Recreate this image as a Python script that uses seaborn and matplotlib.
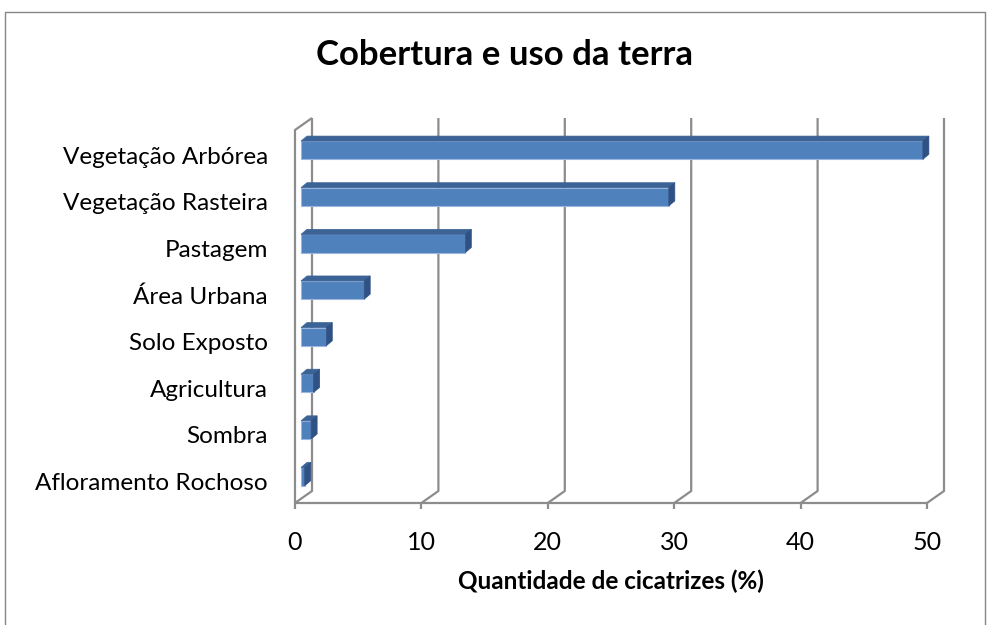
import matplotlib
matplotlib.use("Agg")
import matplotlib.pyplot as plt
from matplotlib.lines import Line2D
from matplotlib.patches import Polygon
from matplotlib.transforms import IdentityTransform, ScaledTranslation
import seaborn as sns
import pandas as pd

# Data
categories = ["Vegetação Arbórea", "Vegetação Rasteira", "Pastagem", "Área Urbana",
              "Solo Exposto", "Agricultura", "Sombra", "Afloramento Rochoso"]
values = [49.2, 29.1, 13.0, 5.0, 2.0, 1.0, 0.8, 0.3]
x_ticks = [0, 10, 20, 30, 40, 50]

title = "Cobertura e uso da terra"
x_title = "Quantidade de cicatrizes (%)"

sns.set_theme(style="white")
plt.rcParams["font.family"] = ["Lato", "DejaVu Sans"]
plt.rcParams["text.color"] = "black"
plt.rcParams["axes.labelcolor"] = "black"

W, H, DPI = 989, 625, 100
fig = plt.figure(figsize=(W / DPI, H / DPI), dpi=DPI)

# front plane of the plot area (pixels, top-left origin)
px_left, px_right, px_top, px_bottom = 295, 927, 130, 503
ax = fig.add_axes([px_left / W, 1 - px_bottom / H,
                   (px_right - px_left) / W, (px_bottom - px_top) / H])

df = pd.DataFrame({"categoria": categories, "valor": values})
sns.barplot(data=df, x="valor", y="categoria", orient="h", width=0.39,
            color="#4F81BD", edgecolor="#9BB7E0", linewidth=0.8,
            saturation=1, ax=ax, zorder=3)

ax.set_xlim(0, 50)
ax.set_ylim(7.46, -0.54)
for s in ax.spines.values():
    s.set_visible(False)
ax.set_facecolor("none")

# depth offsets (pixels)
wall_dx, wall_dy = 17, 12      # back wall relative to front plane
bar_dx, bar_dy = 6, 5          # bar front face relative to front plane
face_dx, face_dy = 6, 5        # bar depth

grid_col = "#8C8C8C"
ident = IdentityTransform()

def to_disp(x, y):
    return ax.transData.transform((x, y))

def add_line(xs, ys, lw=1.6, z=1):
    ax.add_artist(Line2D(xs, ys, color=grid_col, lw=lw, transform=ident,
                         clip_on=False, zorder=z, solid_capstyle="butt"))

y_front_bot = H - px_bottom
y_front_top = H - px_top

# back-wall gridlines with floor diagonals
for t in x_ticks:
    xf = to_disp(t, 0)[0]
    add_line([xf, xf + wall_dx, xf + wall_dx],
             [y_front_bot, y_front_bot + wall_dy, y_front_top + wall_dy])
    # tick mark below the floor edge
    add_line([xf, xf], [y_front_bot, y_front_bot - 6])

# left wall front edge and top diagonal
x0 = to_disp(0, 0)[0]
add_line([x0, x0, x0 + wall_dx], [y_front_bot, y_front_top, y_front_top + wall_dy])
# floor front edge
add_line([x0, to_disp(50, 0)[0]], [y_front_bot, y_front_bot])

# shift bars back into depth and add their top and side faces
offset = ScaledTranslation(bar_dx / DPI, bar_dy / DPI, fig.dpi_scale_trans)
for p in ax.patches:
    x, y, w, h = p.get_x(), p.get_y(), p.get_width(), p.get_height()
    p.set_transform(ax.transData + offset)
    (xl, yb) = to_disp(x, y + h)
    (xr, yt) = to_disp(x + w, y)
    xl += bar_dx; xr += bar_dx; yb += bar_dy; yt += bar_dy
    top = Polygon([(xl, yt), (xr, yt), (xr + face_dx, yt + face_dy), (xl + face_dx, yt + face_dy)],
                  closed=True, facecolor="#3B6396", edgecolor="#3B6396", lw=0.5,
                  transform=ident, clip_on=False, zorder=4)
    side = Polygon([(xr, yb), (xr, yt), (xr + face_dx, yt + face_dy), (xr + face_dx, yb + face_dy)],
                   closed=True, facecolor="#2F5183", edgecolor="#2F5183", lw=0.5,
                   transform=ident, clip_on=False, zorder=4)
    ax.add_artist(top)
    ax.add_artist(side)

ax.set_xticks(x_ticks)
ax.set_xticklabels([str(t) for t in x_ticks])
ax.tick_params(axis="x", length=0, pad=20, labelsize=18, colors="black")
ax.tick_params(axis="y", length=0, pad=19.5, labelsize=17.5, colors="black")
ax.set_ylabel("")
ax.set_xlabel(x_title, fontsize=17.5, fontweight="bold", labelpad=11.5, color="black")
ax.grid(False)

fig.text(504 / W, 1 - 55 / H, title, ha="center", va="center",
         fontsize=25, fontweight="bold", color="black")

# chart area border
border = "#868686"
fig.add_artist(Line2D([5 / W, 5 / W, 985 / W, 985 / W], [0, 1 - 12 / H, 1 - 12 / H, 0],
                      color=border, lw=1.0, transform=fig.transFigure))

fig.savefig("out.png", dpi=DPI)
